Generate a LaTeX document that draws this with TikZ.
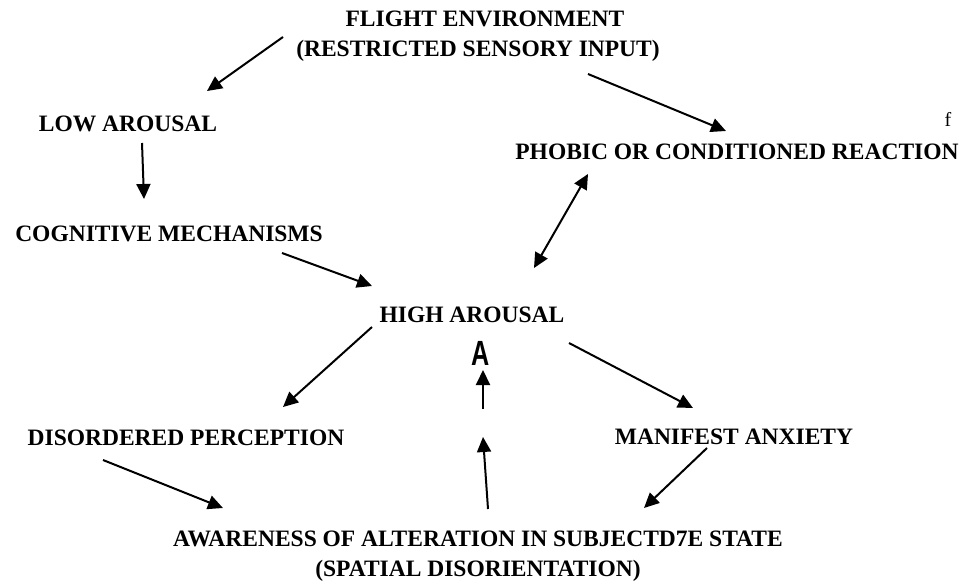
\documentclass[tikz,border=0pt]{standalone}
\usepackage{fontspec}
\usepackage{graphicx}
\setmainfont{Liberation Serif}
\newfontfamily\impactish{Liberation Sans}
\usetikzlibrary{arrows.meta}
\begin{document}
\begin{tikzpicture}[x=1pt,y=-1pt,
  lbl/.style={anchor=base, inner sep=0pt, font=\bfseries\fontsize{23.5}{30}\selectfont},
  conn/.style={line width=2pt, -{Triangle[length=15pt,width=14pt]}},
  conn2/.style={line width=2pt, {Triangle[length=15pt,width=14pt]}-{Triangle[length=15pt,width=14pt]}}]
\useasboundingbox[fill=white] (0,0) rectangle (971,585);
% labels
\node[lbl] (flight1) at (485,27) {FLIGHT ENVIRONMENT};
\node[lbl] (flight2) at (478,57) {(RESTRICTED SENSORY INPUT)};
\node[lbl] (low) at (128,132) {LOW AROUSAL};
\node[anchor=base, inner sep=0pt, font=\fontsize{20}{24}\selectfont] (f) at (948,127) {f};
\node[lbl] (phobic) at (737,160) {PHOBIC OR CONDITIONED REACTION};
\node[lbl] (cog) at (169,242) {COGNITIVE MECHANISMS};
\node[lbl] (high) at (472,322) {HIGH AROUSAL};
\node[anchor=base, inner sep=0pt, font=\impactish\bfseries\fontsize{35}{35}\selectfont] (bigA) at (481,365) {\scalebox{0.72}[1]{A}};
\node[lbl] (dis) at (186,445) {DISORDERED PERCEPTION};
\node[lbl] (man) at (734,444) {MANIFEST ANXIETY};
\node[lbl] (aware1) at (478,546) {AWARENESS OF ALTERATION IN SUBJECTD7E STATE};
\node[lbl] (aware2) at (478,576) {(SPATIAL DISORIENTATION)};
% connector end points
\coordinate (a1s) at (283,37);  \coordinate (a1e) at (207,91);
\coordinate (a2s) at (588,74);  \coordinate (a2e) at (726,131);
\coordinate (a3s) at (142,143); \coordinate (a3e) at (144,199);
\coordinate (a4s) at (282,253); \coordinate (a4e) at (372,286);
\coordinate (a5s) at (588,174); \coordinate (a5e) at (534,268);
\coordinate (a6s) at (372,327); \coordinate (a6e) at (283,407);
\coordinate (a7s) at (569,343); \coordinate (a7e) at (693,408);
\coordinate (a8s) at (483,409); \coordinate (a8e) at (483,370);
\coordinate (a9s) at (488,509); \coordinate (a9e) at (483,437);
\coordinate (a10s) at (103,460); \coordinate (a10e) at (223,508);
\coordinate (a11s) at (707,448); \coordinate (a11e) at (644,508);
% connectors
\draw[conn] (a1s) -- (a1e);
\draw[conn] (a2s) -- (a2e);
\draw[conn] (a3s) -- (a3e);
\draw[conn] (a4s) -- (a4e);
\draw[conn2] (a5s) -- (a5e);
\draw[conn] (a6s) -- (a6e);
\draw[conn] (a7s) -- (a7e);
\draw[conn] (a8s) -- (a8e);
\draw[conn] (a9s) -- (a9e);
\draw[conn] (a10s) -- (a10e);
\draw[conn] (a11s) -- (a11e);
\end{tikzpicture}
\end{document}
